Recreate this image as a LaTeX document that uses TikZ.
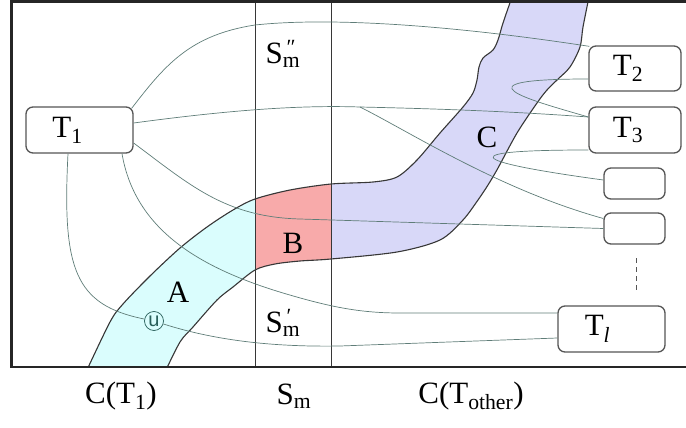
\documentclass[tikz,border=0pt]{standalone}
\usepackage{fontspec}
\setmainfont{Liberation Serif}
\newfontfamily\ufont{Liberation Sans}
\usetikzlibrary{calc}
\definecolor{colA}{RGB}{218,253,253}
\definecolor{colB}{RGB}{248,170,170}
\definecolor{colC}{RGB}{216,216,248}
\definecolor{linecol}{RGB}{95,125,120}
\definecolor{boxgray}{RGB}{85,85,85}
\definecolor{edgecol}{RGB}{55,55,55}
\definecolor{ucol}{RGB}{40,95,90}
\newcommand\bigf{\fontsize{31}{34}\selectfont}
\newcommand\myS[1]{S\rlap{\textsuperscript{\,#1}}\textsubscript{m}}
\newcommand\upperpts{(86,372) (110,322) (123,304) (150,276) (180,248) (207,227) (233,210) (255,199) (290,190) (331,184) (373,182) (397,177) (417,160) (440,133) (463,107) (473,93) (477,80) (479,67) (483,58) (493,50) (498,40) (503,23) (512,-3)}
\newcommand\lowerpts{(589,-3) (583,27) (580,47) (570,67) (557,80) (547,90) (537,103) (517,133) (498,168) (488,185) (478,200) (463,220) (440,240) (397,252) (331,259) (300,261) (275,264) (255,270) (233,287) (217,300) (193,327) (180,342) (165,372)}
\begin{document}
\begin{tikzpicture}[x=1pt,y=-1pt,
  tbox/.style={draw=boxgray, line width=1.3pt, rounded corners=7pt, fill=white, inner sep=0pt, font=\bigf},
  conn/.style={draw=linecol, line width=0.7pt},
  bandedge/.style={draw=edgecol, line width=1.1pt},
  colline/.style={draw=edgecol, line width=0.9pt},
  lab/.style={font=\bigf, inner sep=0pt}]
\useasboundingbox (0,0) rectangle (686,428);
% band fills
\begin{scope}
  \clip (11,1) rectangle (686,367);
  \fill[colC] plot[smooth] coordinates {\upperpts} -- plot[smooth] coordinates {\lowerpts} -- cycle;
  \begin{scope}
    \clip (0,0) rectangle (331,367);
    \fill[colB] plot[smooth] coordinates {\upperpts} -- plot[smooth] coordinates {\lowerpts} -- cycle;
  \end{scope}
  \begin{scope}
    \clip (0,0) rectangle (255,367);
    \fill[colA] plot[smooth] coordinates {\upperpts} -- plot[smooth] coordinates {\lowerpts} -- cycle;
  \end{scope}
  \draw[bandedge] plot[smooth] coordinates {\upperpts};
  \draw[bandedge] plot[smooth] coordinates {\lowerpts};
\end{scope}
% column lines
\draw[colline] (255,1) -- (255,367);
\draw[colline] (331,1) -- (331,367);
% boxes
\node[tbox, minimum width=107pt, minimum height=46pt] (T1) at (79.5,130) {T\textsubscript{1}\hspace*{24pt}};
\node[tbox, minimum width=92pt, minimum height=45pt] (T2) at (635,68.5) {T\textsubscript{2}\hspace*{14pt}};
\node[tbox, minimum width=92pt, minimum height=46pt] (T3) at (635,130) {T\textsubscript{3}\hspace*{14pt}};
\node[tbox, minimum width=61pt, minimum height=31pt] (e1) at (634.5,183.5) {};
\node[tbox, minimum width=61pt, minimum height=31pt] (e2) at (634.5,228.5) {};
\node[tbox, minimum width=107pt, minimum height=46pt] (Tl) at (611.5,329) {T\textsubscript{\textit{l}}\hspace*{28pt}};
\node[draw=ucol, circle, minimum size=19pt, inner sep=0pt, line width=0.7pt, text=ucol, font=\ufont\fontsize{20}{21}\selectfont] (u) at (154,321) {u};
% connectors
\coordinate (br) at (360,107);
\draw[conn] ($(T1.north east)+(-2,2)$) .. controls (165,65) and (190,35) .. (255,25) .. controls (330,17) and (450,25) .. ($(T2.north west)+(1,1)$);
\draw[conn] ($(T1.east)+(0,-7)$) .. controls (230,110) and (300,105) .. (br) .. controls (450,109) and (520,112) .. ($(T3.west)+(0,-13)$);
\draw[conn] (br) .. controls (410,132) and (500,190) .. ($(e2.west)+(0,-10)$);
\draw[conn] ($(T1.east)+(0,13)$) .. controls (190,185) and (225,217) .. (300,219) -- (e2.west);
\draw[conn] ($(T1.south)+(42.5,0)$) .. controls (135,230) and (200,268) .. (283,293) .. controls (330,307) and (360,313) .. (400,313) -- ($(Tl.west)+(0,-16)$);
\draw[conn] ($(T1.south)+(-11.5,0)$) .. controls (62,270) and (75,305) .. (u);
\draw[conn] (u) .. controls (220,342) and (280,347) .. (340,346) -- ($(Tl.west)+(0,9)$);
\draw[conn] ($(T2.west)+(0,10.5)$) .. controls (450,79) and (530,100) .. ($(T3.west)+(0,-13)$);
\draw[conn] ($(T3.west)+(0,20)$) .. controls (425,150) and (500,166) .. ($(e1.west)+(0,-3.5)$);
\coordinate (d1) at (636,258);
\coordinate (d2) at (636,291);
\draw[draw=boxgray, line width=1pt, dash pattern=on 5pt off 4pt] (d1) -- (d2);
% labels
\node[lab] (Spp) at (283,54) {\myS{\char"2033}};
\node[lab] (Sp) at (283,323) {\myS{\char"2032}};
\node[lab] (A) at (178,292) {A};
\node[lab] (B) at (293,243) {B};
\node[lab] (C) at (487,137) {C};
\node[lab] (c1) at (121,396) {C(T\textsubscript{1})};
\node[lab] (c2) at (294,396) {S\textsubscript{m}};
\node[lab] (c3) at (471,396) {C(T\textsubscript{other})};
% frame
\draw[line width=2.5pt, black!85] (686,1.5) -- (11.5,1.5) -- (11.5,367) -- (686,367);
\end{tikzpicture}
\end{document}
